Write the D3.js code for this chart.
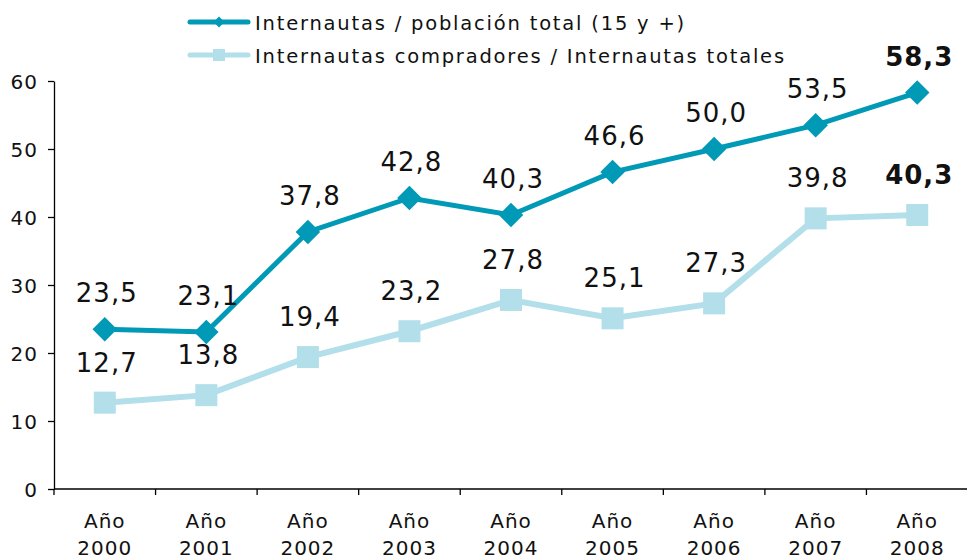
<!DOCTYPE html>
<html lang="es">
<head>
<meta charset="UTF-8">
<title>Internautas</title>
<script src="https://d3js.org/d3.v7.min.js"></script>
<style>
body { margin: 0; background: #fff; }
text { font-family: "DejaVu Sans", Verdana, sans-serif; fill: #111; }
.axis path, .axis line { stroke: #000; stroke-width: 1.3; }
</style>
</head>
<body>
<svg width="967" height="558"></svg>
<script>
// data
var years = ["2000", "2001", "2002", "2003", "2004", "2005", "2006", "2007", "2008"];
var poblacion = [23.5, 23.1, 37.8, 42.8, 40.3, 46.6, 50.0, 53.5, 58.3];
var compradores = [12.7, 13.8, 19.4, 23.2, 27.8, 25.1, 27.3, 39.8, 40.3];
var yTicks = [0, 10, 20, 30, 40, 50, 60];
var seriesNames = ["Internautas / población total (15 y +)", "Internautas compradores / Internautas totales"];

var dark = "#0099b6", light = "#b2dfea";

var svg = d3.select("svg");

var x = d3.scaleBand().domain(years).range([54, 968]);
var y = d3.scaleLinear().domain([0, 60]).range([489, 81]);
var cx = function(d, i) { return x(years[i]) + x.bandwidth() / 2; };
var fmt = function(v) { return v.toFixed(1).replace(".", ","); };

// y axis
var yAxis = svg.append("g").attr("class", "axis")
    .attr("transform", "translate(54,0)")
    .call(d3.axisLeft(y).tickValues(yTicks).tickSize(6).tickSizeOuter(0).tickPadding(10));
yAxis.selectAll("text").style("font-size", "20px").style("letter-spacing", "1px").attr("dy", "0.36em");

// x axis: line with ticks at band edges
var xg = svg.append("g").attr("class", "axis");
xg.append("line").attr("x1", 54).attr("x2", 968).attr("y1", y(0)).attr("y2", y(0));
xg.selectAll("line.tk").data(years).enter().append("line")
    .attr("class", "tk")
    .attr("x1", function(d) { return x(d); }).attr("x2", function(d) { return x(d); })
    .attr("y1", y(0)).attr("y2", y(0) + 6);
var xl = svg.append("g").selectAll("text").data(years).enter().append("text")
    .attr("text-anchor", "middle")
    .style("font-size", "20px")
    .style("letter-spacing", "1px")
    .attr("x", function(d) { return x(d) + x.bandwidth() / 2; })
    .attr("y", 528);
xl.append("tspan").text("Año");
xl.append("tspan").attr("x", function(d) { return x(d) + x.bandwidth() / 2; }).attr("dy", 27)
    .text(function(d) { return d; });

var line = d3.line().x(cx).y(function(d) { return y(d); });

// series 2 (light, squares)
svg.append("path").datum(compradores)
    .attr("d", line).attr("fill", "none").attr("stroke", light).attr("stroke-width", 6);
svg.append("g").selectAll("rect").data(compradores).enter().append("rect")
    .attr("x", function(d, i) { return cx(d, i) - 11; })
    .attr("y", function(d) { return y(d) - 11; })
    .attr("width", 22).attr("height", 22).attr("fill", light);

// series 1 (dark, diamonds)
svg.append("path").datum(poblacion)
    .attr("d", line).attr("fill", "none").attr("stroke", dark).attr("stroke-width", 5);
var diamond = d3.symbol().type(d3.symbolSquare).size(300);
svg.append("g").selectAll("path").data(poblacion).enter().append("path")
    .attr("d", diamond)
    .attr("fill", dark)
    .attr("transform", function(d, i) { return "translate(" + cx(d, i) + "," + y(d) + ") rotate(45)"; });

// labels
function labels(data, off) {
  svg.append("g").selectAll("text").data(data).enter().append("text")
      .attr("text-anchor", "middle")
      .style("font-size", "26px")
      .style("letter-spacing", "1px")
      .style("font-weight", function(d, i) { return i == data.length - 1 ? "bold" : "normal"; })
      .attr("x", function(d, i) { return cx(d, i) + 2; })
      .attr("y", function(d) { return y(d) - off; })
      .text(fmt);
}
labels(poblacion, 27);
labels(compradores, 31);

// legend
var leg = svg.append("g");
[0, 1].forEach(function(i) {
  var ly = 22 + i * 33;
  leg.append("line").attr("x1", 190).attr("x2", 248).attr("y1", ly).attr("y2", ly)
      .attr("stroke", i == 0 ? dark : light).attr("stroke-width", 5).attr("stroke-linecap", "round");
  if (i == 0) {
    leg.append("path").attr("d", d3.symbol().type(d3.symbolSquare).size(60))
        .attr("fill", dark).attr("transform", "translate(219," + ly + ") rotate(45)");
  } else {
    leg.append("rect").attr("x", 213).attr("y", ly - 6).attr("width", 12).attr("height", 12).attr("fill", light);
  }
  leg.append("text").attr("x", 255).attr("y", ly + 8)
      .style("font-size", "19.5px").style("letter-spacing", "1.8px")
      .text(seriesNames[i]);
});
</script>
</body>
</html>
